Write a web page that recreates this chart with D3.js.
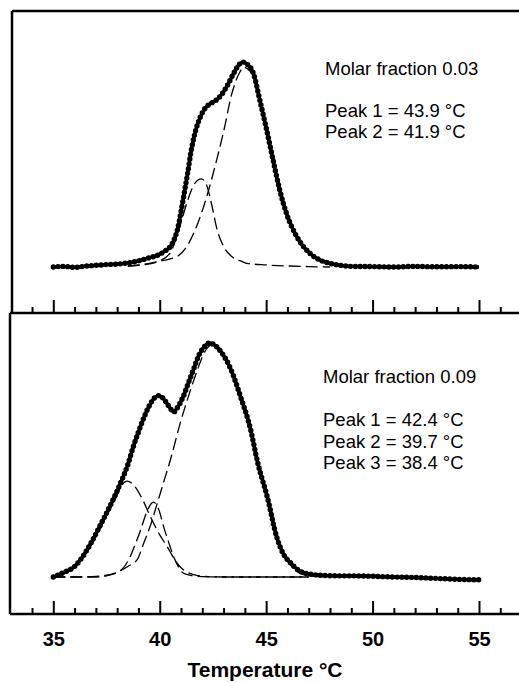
<!DOCTYPE html>
<html>
<head>
<meta charset="utf-8">
<script src="https://cdn.jsdelivr.net/npm/d3@7"></script>
<style>
  body { margin: 0; background: #fff; }
  svg { display: block; }
  text { font-family: "Liberation Sans", Arial, Helvetica, sans-serif; fill: #000; }
</style>
</head>
<body>
<div id="chart"></div>
<script>
// temperatures in degC, heights normalised to the highest point of each panel
var topMeasured = [
  [35.0, 0.000], [35.5, 0.003], [36.0, -0.002], [36.5, 0.004], [37.0, 0.008], [37.5, 0.012],
  [38.0, 0.014], [38.5, 0.020], [39.0, 0.030], [39.5, 0.045], [40.0, 0.062], [40.3, 0.082],
  [40.5, 0.100], [40.7, 0.140], [40.85, 0.190], [41.0, 0.270], [41.15, 0.360], [41.3, 0.450],
  [41.5, 0.580], [41.7, 0.670], [41.9, 0.730], [42.1, 0.770], [42.35, 0.795], [42.6, 0.810],
  [42.9, 0.840], [43.2, 0.890], [43.5, 0.950], [43.75, 0.990], [43.9, 1.000], [44.1, 0.990],
  [44.4, 0.945], [44.7, 0.815], [45.0, 0.680], [45.33, 0.520], [45.64, 0.375], [45.96, 0.260],
  [46.43, 0.150], [47.05, 0.067], [47.5, 0.035], [48.0, 0.018], [48.5, 0.008], [49.0, 0.003],
  [50.0, 0.002], [51.0, 0.000], [52.0, 0.003], [53.0, 0.001], [54.0, 0.002], [55.0, 0.000]
];
var topPeak1 = [
  [38.5, 0.005], [39.0, 0.010], [39.5, 0.018], [40.0, 0.028], [40.5, 0.040], [40.8, 0.050],
  [41.27, 0.100], [41.74, 0.200], [42.2, 0.340], [42.67, 0.520], [43.0, 0.660], [43.4, 0.850],
  [43.76, 0.950], [43.95, 0.975], [44.2, 0.960], [44.4, 0.930], [44.7, 0.805], [45.0, 0.670],
  [45.33, 0.510], [45.64, 0.365], [45.96, 0.250], [46.43, 0.140], [47.05, 0.060], [47.5, 0.030],
  [48.0, 0.015]
];
var topPeak2 = [
  [38.5, 0.003], [39.0, 0.008], [39.5, 0.015], [40.0, 0.030], [40.5, 0.070], [40.95, 0.200],
  [41.3, 0.320], [41.6, 0.400], [41.95, 0.430], [42.2, 0.400], [42.45, 0.300], [42.7, 0.180],
  [43.0, 0.100], [43.4, 0.050], [43.8, 0.030], [44.1, 0.018], [45.0, 0.010], [46.0, 0.005],
  [47.0, 0.002], [48.0, 0.000]
];

var botMeasured = [
  [35.0, 0.000], [35.5, 0.020], [36.0, 0.045], [36.4, 0.090], [36.8, 0.150], [37.2, 0.220],
  [37.7, 0.310], [38.15, 0.400], [38.5, 0.480], [38.77, 0.560], [39.0, 0.620], [39.25, 0.680],
  [39.5, 0.730], [39.75, 0.765], [39.95, 0.775], [40.15, 0.765], [40.35, 0.740], [40.5, 0.720],
  [40.66, 0.705], [40.8, 0.720], [41.1, 0.770], [41.35, 0.830], [41.6, 0.890], [41.85, 0.950],
  [42.1, 0.985], [42.35, 1.000], [42.6, 0.990], [42.9, 0.960], [43.33, 0.890], [43.8, 0.770],
  [44.27, 0.630], [44.6, 0.490], [45.06, 0.340], [45.5, 0.170], [45.8, 0.100], [46.15, 0.060],
  [46.5, 0.030], [46.9, 0.015], [47.5, 0.008], [48.3, 0.005], [49.0, 0.005], [50.0, 0.003],
  [51.0, 0.000], [52.0, -0.002], [53.0, -0.006], [54.0, -0.010], [55.0, -0.012]
];
var botPeak1 = [
  [35.0, 0.000], [36.0, 0.000], [37.0, 0.003], [37.5, 0.008], [38.0, 0.020], [38.5, 0.045],
  [38.95, 0.075], [39.25, 0.145], [39.6, 0.230], [39.9, 0.320], [40.2, 0.410], [40.5, 0.500],
  [40.97, 0.660], [41.45, 0.800], [41.77, 0.885], [42.1, 0.960], [42.4, 0.990], [42.7, 0.975],
  [43.0, 0.940], [43.33, 0.880], [43.8, 0.760], [44.27, 0.620], [44.6, 0.480], [45.06, 0.330],
  [45.5, 0.165], [45.8, 0.095], [46.15, 0.050], [46.5, 0.020], [47.0, 0.005], [48.0, 0.000]
];
var botPeak2 = [
  [35.0, 0.000], [37.0, 0.000], [37.5, 0.005], [38.0, 0.020], [38.3, 0.040], [38.6, 0.085],
  [38.85, 0.140], [39.1, 0.200], [39.4, 0.280], [39.7, 0.320], [39.95, 0.290], [40.2, 0.210],
  [40.45, 0.140], [40.66, 0.085], [40.9, 0.040], [41.1, 0.017], [41.5, 0.006], [42.0, 0.002],
  [43.0, 0.000], [47.0, 0.000]
];
var botPeak3 = [
  [35.0, 0.000], [35.5, 0.015], [36.0, 0.040], [36.5, 0.095], [37.0, 0.170], [37.5, 0.260],
  [38.0, 0.350], [38.2, 0.390], [38.47, 0.410], [38.8, 0.390], [39.2, 0.330], [39.55, 0.260],
  [40.0, 0.180], [40.35, 0.130], [40.7, 0.075], [40.97, 0.043], [41.3, 0.020], [41.6, 0.010],
  [42.0, 0.004], [43.0, 0.000], [47.0, 0.000]
];

var majorTicks = [35, 40, 45, 50, 55];
var minorTicks = [34, 36, 37, 38, 39, 41, 42, 43, 44, 46, 47, 48, 49, 51, 52, 53, 54, 56];
var topLabels = ['Molar fraction 0.03', '', 'Peak 1 = 43.9 °C', 'Peak 2 = 41.9 °C'];
var botLabels = ['Molar fraction 0.09', '', 'Peak 1 = 42.4 °C', 'Peak 2 = 39.7 °C', 'Peak 3 = 38.4 °C'];

var W = 519, H = 683;
var svg = d3.select('#chart').append('svg').attr('width', W).attr('height', H);

var x = d3.scaleLinear().domain([35, 55]).range([53.3, 479]);
var yTop = d3.scaleLinear().domain([0, 1]).range([267, 62]);
var yBot = d3.scaleLinear().domain([0, 1]).range([577, 343]);

function drawPanel(yScale, measured, peaks) {
  var line = d3.line()
    .x(function (d) { return x(d[0]); })
    .y(function (d) { return yScale(d[1]); })
    .curve(d3.curveMonotoneX);

  peaks.forEach(function (p) {
    svg.append('path')
      .attr('d', line(p))
      .attr('fill', 'none')
      .attr('stroke', '#000')
      .attr('stroke-width', 1.3)
      .attr('stroke-dasharray', '12,5');
  });

  // measured trace: heavy line with closely spaced round markers on it
  svg.append('path')
    .attr('d', line(measured))
    .attr('fill', 'none')
    .attr('stroke', '#000')
    .attr('stroke-width', 3.4)
    .attr('stroke-linejoin', 'round');
  svg.append('path')
    .attr('d', line(measured))
    .attr('fill', 'none')
    .attr('stroke', '#000')
    .attr('stroke-width', 5.4)
    .attr('stroke-linecap', 'round')
    .attr('stroke-dasharray', '0,4.8');
}

drawPanel(yTop, topMeasured, [topPeak1, topPeak2]);
drawPanel(yBot, botMeasured, [botPeak1, botPeak2, botPeak3]);

// frame
var frame = svg.append('g').attr('stroke', '#000').attr('stroke-width', 2.5).attr('fill', 'none');
frame.append('line').attr('x1', 12).attr('y1', 11).attr('x2', 530).attr('y2', 11);
frame.append('line').attr('x1', 12).attr('y1', 11).attr('x2', 12).attr('y2', 313);
frame.append('line').attr('x1', 10).attr('y1', 313).attr('x2', 530).attr('y2', 313);
frame.append('line').attr('x1', 10).attr('y1', 313).attr('x2', 10).attr('y2', 614);
frame.append('line').attr('x1', 10).attr('y1', 614).attr('x2', 530).attr('y2', 614);

// inward ticks on both horizontal axes
[313, 614].forEach(function (yy) {
  var gMaj = svg.append('g').attr('transform', 'translate(0,' + yy + ')')
    .call(d3.axisTop(x).tickValues(majorTicks).tickSize(13).tickFormat(''));
  var gMin = svg.append('g').attr('transform', 'translate(0,' + yy + ')')
    .call(d3.axisTop(x).tickValues(minorTicks).tickSize(6).tickFormat(''));
  [gMaj, gMin].forEach(function (g) {
    g.select('.domain').remove();
    g.selectAll('.tick line').attr('stroke', '#000').attr('stroke-width', 2);
  });
});

var gLab = svg.append('g').attr('transform', 'translate(0,614)')
  .call(d3.axisBottom(x).tickValues(majorTicks).tickSize(0).tickPadding(18));
gLab.select('.domain').remove();
gLab.selectAll('.tick text')
  .attr('font-family', '"Liberation Sans", Arial, sans-serif')
  .attr('font-size', 20)
  .attr('font-weight', 'bold')
  .attr('fill', '#000');

svg.append('text')
  .attr('x', 265)
  .attr('y', 677)
  .attr('text-anchor', 'middle')
  .style('font-size', '21px')
  .style('font-weight', 'bold')
  .text('Temperature °C');

function drawLabels(lines, x0, y0, step) {
  lines.forEach(function (t, i) {
    if (!t) return;
    svg.append('text')
      .attr('x', x0)
      .attr('y', y0 + i * step)
      .style('font-size', '18.5px')
      .text(t);
  });
}
drawLabels(topLabels, 325, 75, 21);
drawLabels(botLabels, 323, 383, 21.5);
</script>
</body>
</html>
